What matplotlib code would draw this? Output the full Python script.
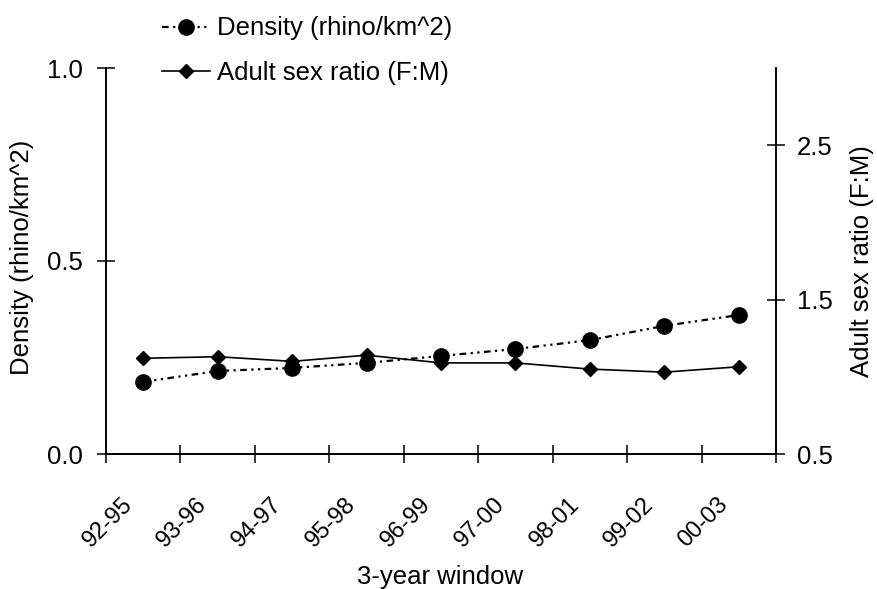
import matplotlib
matplotlib.use("Agg")
import matplotlib.pyplot as plt
import numpy as np

plt.rcParams['font.family'] = ['Liberation Sans', 'DejaVu Sans']

windows = ["92-95", "93-96", "94-97", "95-98", "96-99", "97-00", "98-01", "99-02", "00-03"]
density = [0.187, 0.215, 0.223, 0.236, 0.254, 0.272, 0.295, 0.332, 0.360]
sex_ratio = [1.12, 1.13, 1.10, 1.14, 1.09, 1.09, 1.05, 1.03, 1.065]

FS = 18.5
W, H = 877, 589

fig = plt.figure(figsize=(8.77, 5.89), dpi=100)
ax = fig.add_axes([106/W, 1 - 454/H, (776 - 106)/W, (454 - 68)/H])
ax2 = ax.twinx()

x = np.arange(len(windows)) + 0.5

l1, = ax.plot(x, density, color='black', lw=1.6, linestyle=(0, (3, 2, 1, 2, 1, 2)),
              marker='o', markersize=11, label='Density (rhino/km^2)')
l2, = ax2.plot(x, sex_ratio, color='black', lw=1.2, linestyle='-',
               marker='D', markersize=7.5, label='Adult sex ratio (F:M)')

ax.set_xlim(0, len(windows))
ax.set_ylim(0, 1.0)
ax2.set_ylim(0.5, 3.0)

ax.set_xticks(np.arange(len(windows) + 1))
ax.set_xticklabels([])
ax.set_yticks([0, 0.5, 1.0])
ax.set_yticklabels(["0.0", "0.5", "1.0"], fontsize=FS)
ax2.set_yticks([0.5, 1.5, 2.5])
ax2.set_yticklabels(["0.5", "1.5", "2.5"], fontsize=FS)

for a in (ax, ax2):
    a.spines['top'].set_visible(False)
    for s in a.spines.values():
        s.set_linewidth(1.4)
ax.spines['right'].set_visible(False)
ax2.spines['left'].set_visible(False)
ax2.spines['bottom'].set_visible(False)

ax.tick_params(axis='both', direction='inout', length=13, width=1.1)
ax.tick_params(axis='y', pad=10)
ax2.tick_params(axis='y', direction='inout', length=13, width=1.1, pad=8.5)

# category labels sit between the tick marks
for xi, lab in zip(x, windows):
    ax.annotate(lab, xy=(xi, 0), xycoords=('data', 'axes fraction'),
                xytext=(-10, -34), textcoords='offset points',
                rotation=45, ha='right', va='center', rotation_mode='anchor',
                fontsize=17)

fig.text(22/W, 1 - 257/H, "Density (rhino/km^2)", rotation=90, fontsize=FS,
         ha='center', va='center')
fig.text(862/W, 1 - 261/H, "Adult sex ratio (F:M)", rotation=90, fontsize=FS,
         ha='center', va='center')
fig.text(440/W, 1 - 577/H, "3-year window", fontsize=FS, ha='center', va='center')

fig.legend(handles=[l1, l2], loc='upper left', bbox_to_anchor=(162/W, 1 - 16.5/H),
           frameon=False, fontsize=FS, handlelength=1.87, handletextpad=0.27,
           labelspacing=0.81, borderpad=0, borderaxespad=0)

fig.savefig("out.png", dpi=100)
